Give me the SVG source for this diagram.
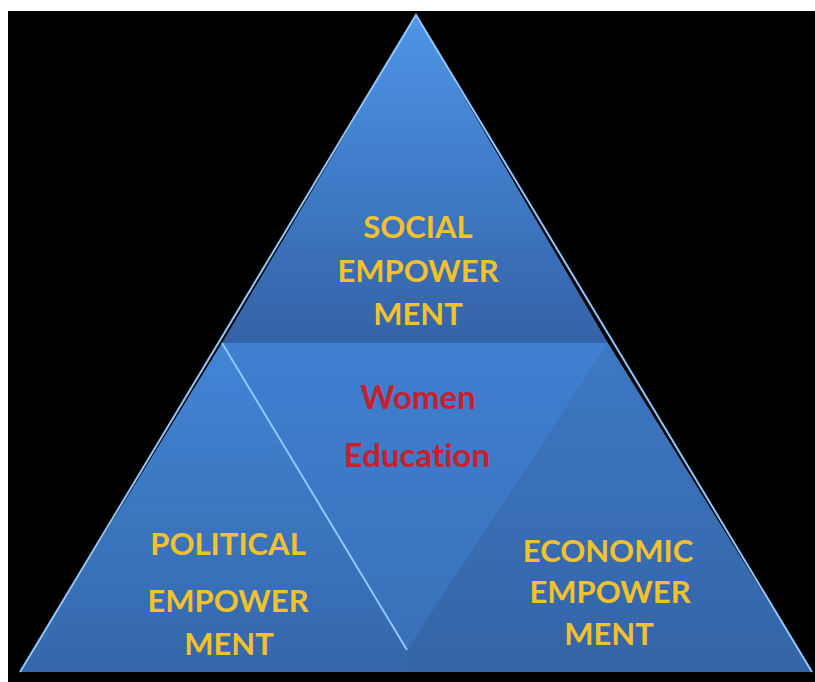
<svg xmlns="http://www.w3.org/2000/svg" width="815" height="682" viewBox="0 0 815 682">
<defs>
<linearGradient id="gTop" x1="0" y1="0" x2="0" y2="1">
<stop offset="0" stop-color="#4f95e6"/>
<stop offset="0.5" stop-color="#3f7bc8"/>
<stop offset="1" stop-color="#3462a6"/>
</linearGradient>
<linearGradient id="gMid" x1="0" y1="0" x2="0" y2="1">
<stop offset="0" stop-color="#3f80d2"/>
<stop offset="1" stop-color="#3a70b8"/>
</linearGradient>
<linearGradient id="gLeft" x1="0" y1="0" x2="0" y2="1">
<stop offset="0" stop-color="#4288da"/>
<stop offset="1" stop-color="#3567aa"/>
</linearGradient>
<linearGradient id="gRight" x1="0" y1="0" x2="0" y2="1">
<stop offset="0" stop-color="#3d78c4"/>
<stop offset="1" stop-color="#3465a6"/>
</linearGradient>
<style>
text{font-family:Lato,"Open Sans",sans-serif;font-weight:bold;text-anchor:middle;font-variant-ligatures:none}
.y{fill:#f2c12e;font-size:31px}
.r{fill:#c8202c;font-size:33px}
.edge{fill:none;stroke:#8ec8ff;stroke-width:2}
</style>
</defs>
<rect width="815" height="682" fill="#000"/>
<rect width="815" height="11" fill="#fff"/>
<rect width="8" height="682" fill="#fff"/>
<g id="bottom-right">
<polygon points="222,343 608,343 812,672 20,672" fill="url(#gRight)"/>
</g>
<g id="social">
<polygon points="416,15 608,343 222,343" fill="url(#gTop)"/>
<text class="y" x="418" y="238">SOCIAL</text>
<text class="y" x="418" y="282">EMPOWER</text>
<text class="y" x="418" y="325">MENT</text>
</g>
<g id="women-education">
<polygon points="222,343 608,343 407,650" fill="url(#gMid)"/>
<text class="r" x="418" y="409">Women</text>
<text class="r" x="417" y="467">Education</text>
</g>
<g id="political">
<polygon points="222,343 407,650 407,672 20,672" fill="url(#gLeft)" opacity="0.9"/>
<text class="y" x="228" y="555">POLITICAL</text>
<text class="y" x="228" y="612">EMPOWER</text>
<text class="y" x="229" y="655">MENT</text>
</g>
<g id="economic">
<text class="y" x="608" y="562">ECONOMIC</text>
<text class="y" x="610" y="603">EMPOWER</text>
<text class="y" x="609" y="645">MENT</text>
</g>
<g id="connectors">
<line class="edge" x1="222" y1="343" x2="407" y2="650"/>
<polyline class="edge" points="20,672 416,15 812,672" stroke="#6fb0f5"/>
</g>
</svg>
